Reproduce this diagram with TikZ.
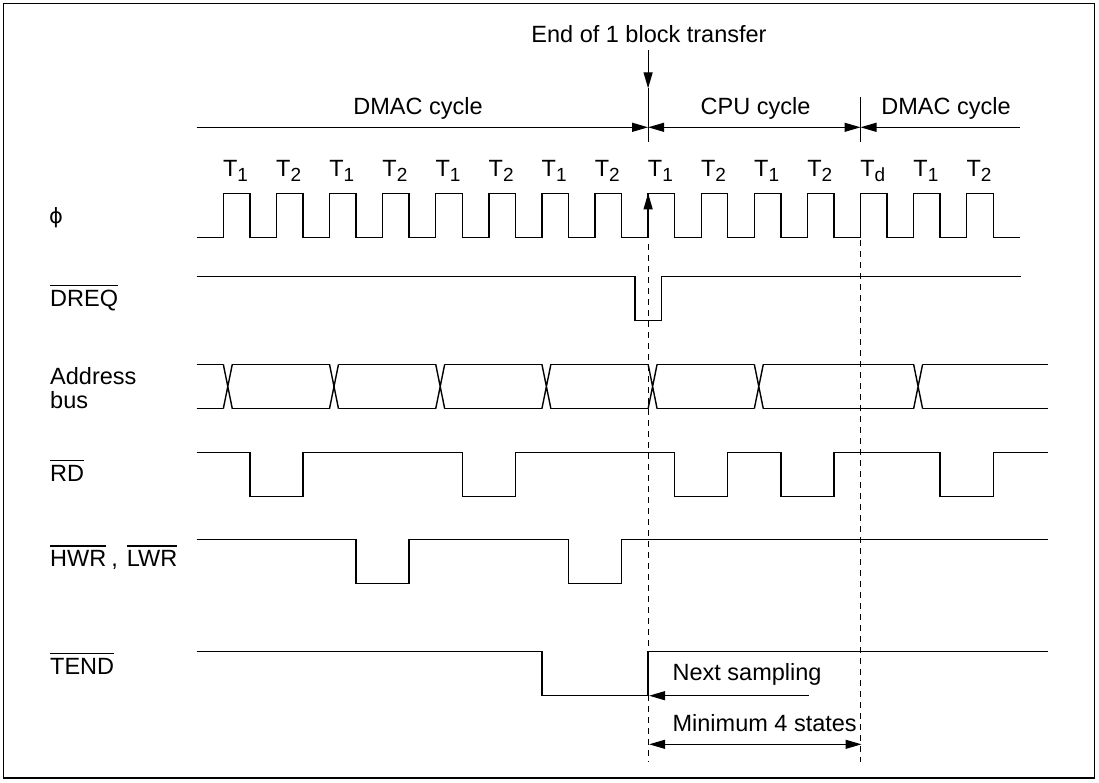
\documentclass[tikz,border=0pt]{standalone}
\usepackage{fontspec}
\setmainfont{Liberation Sans}
\newfontfamily\djv{DejaVu Sans}
\usetikzlibrary{arrows.meta}
\newcommand\risex[1]{(223.3+53.1*(#1))}
\newcommand\fallx[1]{(249.85+53.1*(#1))}
\newcommand\ovl[1]{\setbox0\hbox{#1}\rlap{\rule[\dimexpr\ht0+4pt\relax]{\wd0}{1.3pt}}\box0}
\newcommand\Tsub[1]{T\raisebox{-5pt}{\fontsize{19}{19}\selectfont #1}}
\tikzset{
  sig/.style={line width=1.4pt, line join=miter},
  guide/.style={line width=1pt, dash pattern=on 6pt off 5pt},
  arr/.style={line width=1.2pt, -{Triangle[length=16pt,width=9pt]}},
  darr/.style={line width=1.2pt, {Triangle[length=16pt,width=9pt]}-{Triangle[length=16pt,width=9pt]}},
  lbl/.style={inner sep=0pt, anchor=base west, font=\fontsize{23.5}{28}\selectfont},
  txt/.style={inner sep=0pt, anchor=base, font=\fontsize{23.5}{28}\selectfont},
}
\begin{document}
\begin{tikzpicture}[x=1pt,y=-1pt]
\useasboundingbox (0,0) rectangle (1099,782);
\draw[line width=1.6pt] (3.5,3.5) rectangle (1094.5,778);

% header
\node[txt] (eob) at (649,42.7) {End of 1 block transfer};
\coordinate (eobtop) at (648.1,50);
\coordinate (eobtip) at (648.1,88.3);
\coordinate (eobbot) at (648.1,141.7);
\draw[arr] (eobtop) -- (eobtip);
\draw[line width=1.2pt] (eobtip) -- (eobbot);
\coordinate (tick2top) at ({\risex{12}},97);
\coordinate (tick2bot) at ({\risex{12}},141.7);
\draw[line width=1.2pt] (tick2top) -- (tick2bot);

\coordinate (c0) at (196.7,127.3);
\coordinate (c1) at ({\risex{8}},127.3);
\coordinate (c2) at ({\risex{12}},127.3);
\coordinate (c3) at (1020,127.3);
\draw[arr] (c0) -- (c1);
\draw[darr] (c1) -- (c2);
\draw[arr] (c3) -- (c2);
\node[txt] (dmac1) at (418,114) {DMAC cycle};
\node[txt] (cpu) at (755.5,114) {CPU cycle};
\node[txt] (dmac2) at (946,114) {DMAC cycle};

% state labels
\foreach \k/\s in {0/1,1/2,2/1,3/2,4/1,5/2,6/1,7/2,8/1,9/2,10/1,11/2,12/d,13/1,14/2}{
  \node[txt] (t\k) at ({\risex{\k}+12.3},176.7) {\Tsub{\s}};
}

% signal labels
\node[lbl, font=\fontsize{21}{26}\djv] (lphi) at (49,223) {ϕ};
\node[lbl] (ldreq) at (50,306.5) {\ovl{DREQ}};
\node[lbl] (laddr) at (50,384) {Address};
\node[lbl] (lbus) at (50,408) {bus};
\node[lbl] (lrd) at (50,481) {\ovl{RD}};
\node[lbl] (lwr) at (50,566.7) {\ovl{HWR}\hspace{5pt},\hspace{9pt}\ovl{LWR}};
\node[lbl] (ltend) at (50,674.3) {\ovl{TEND}};

% clock
\draw[sig] (196.7,237.3)
  \foreach \k in {0,...,14}{
    -- ({\risex{\k}},237.3) -- ({\risex{\k}},193.3) -- ({\fallx{\k}},193.3) -- ({\fallx{\k}},237.3)
  } -- (1020,237.3);

% DREQ
\draw[sig] (196.7,276.7) -- ({\risex{8}-13.3},276.7) -- ({\risex{8}-13.3},320.7)
  -- ({\risex{8}+13.3},320.7) -- ({\risex{8}+13.3},276.7) -- (1020.7,276.7);

% address bus
\def\up{364.3}\def\lo{408.7}
\draw[sig] (196.7,\up) -- ({\risex{0}},\up)
  \foreach \a/\b in {0/2,2/4,4/6,6/8,8/10,10/13}{
    ({\risex{\a}+9},\up) -- ({\risex{\b}},\up)
    ({\risex{\a}+9},\lo) -- ({\risex{\b}},\lo)
  }
  ({\risex{13}+9},\up) -- (1047.7,\up)
  (196.7,\lo) -- ({\risex{0}},\lo)
  ({\risex{13}+9},\lo) -- (1047.7,\lo);
\foreach \a in {0,2,4,6,8,10,13}{
  \draw[sig] ({\risex{\a}},\up) -- ({\risex{\a}+9},\lo) ({\risex{\a}},\lo) -- ({\risex{\a}+9},\up);
}

% RD
\def\hi{452.7}\def\lw{496.7}
\draw[sig] (196.7,\hi)
  \foreach \a/\b in {0/1,4/5,8/9,10/11,13/14}{
    -- ({\fallx{\a}},\hi) -- ({\fallx{\a}},\lw) -- ({\fallx{\b}},\lw) -- ({\fallx{\b}},\hi)
  } -- (1047.7,\hi);

% HWR, LWR
\def\hi{539.3}\def\lw{583.3}
\draw[sig] (196.7,\hi)
  \foreach \a/\b in {2/3,6/7}{
    -- ({\fallx{\a}},\hi) -- ({\fallx{\a}},\lw) -- ({\fallx{\b}},\lw) -- ({\fallx{\b}},\hi)
  } -- (1047.7,\hi);

% TEND
\def\hi{651.7}\def\lw{695.3}
\draw[sig] (196.7,\hi) -- ({\risex{6}},\hi) -- ({\risex{6}},\lw) -- ({\risex{8}},\lw)
  -- ({\risex{8}},\hi) -- (1047.7,\hi);

% guides
\coordinate (g1top) at ({\risex{8}},244);
\coordinate (g1bot) at ({\risex{8}},762);
\coordinate (g2top) at ({\risex{12}},240);
\coordinate (g2bot) at ({\risex{12}},762);
\draw[guide] (g1top) -- (g1bot);
\draw[guide] (g2top) -- (g2bot);

% sampling arrow on clock
\coordinate (smpA) at ({\risex{8}},237.3);
\coordinate (smpB) at ({\risex{8}},193.3);
\draw[arr] (smpA) -- (smpB);

% bottom annotations
\node[lbl] (next) at (672.4,680.7) {Next sampling};
\coordinate (nsA) at (808.7,695.7);
\coordinate (nsB) at ({\risex{8}+1},695.7);
\draw[arr] (nsA) -- (nsB);
\node[lbl] (min4) at (672.4,731.7) {Minimum 4 states};
\coordinate (m4A) at ({\risex{8}+1},744.3);
\coordinate (m4B) at ({\risex{12}+1},744.3);
\draw[darr] (m4A) -- (m4B);
\end{tikzpicture}
\end{document}
